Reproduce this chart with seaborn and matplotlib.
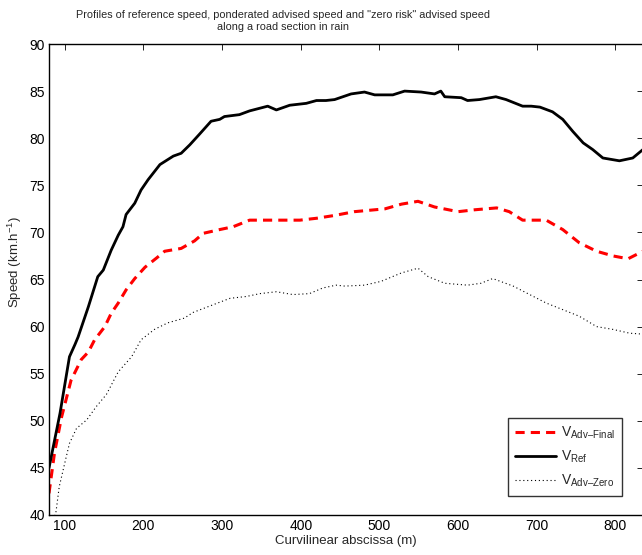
import matplotlib
matplotlib.use('Agg')
import matplotlib.pyplot as plt
import seaborn as sns
import pandas as pd

# Reference speed (black solid)
ref_x = [80, 94, 106, 113, 117, 130, 142, 149, 159, 168, 174, 178, 189, 197, 206, 221, 238, 248,
         259, 271, 286, 297, 303, 322, 335, 358, 369, 386, 407, 420, 432, 443, 464, 481, 494, 517,
         532, 553, 570, 578, 583, 604, 612, 627, 648, 661, 682, 693, 704, 720, 733, 746, 759, 771,
         784, 805, 822, 835]
ref_y = [45.0, 50.8, 56.8, 58.1, 58.9, 62.1, 65.3, 66.0, 68.1, 69.7, 70.6, 71.9, 73.1, 74.5, 75.6,
         77.2, 78.1, 78.4, 79.3, 80.4, 81.8, 82.0, 82.3, 82.5, 82.9, 83.4, 83.0, 83.5, 83.7, 84.0,
         84.0, 84.1, 84.7, 84.9, 84.6, 84.6, 85.0, 84.9, 84.7, 85.0, 84.4, 84.3, 84.0, 84.1, 84.4,
         84.1, 83.4, 83.4, 83.3, 82.8, 82.0, 80.7, 79.5, 78.8, 77.9, 77.6, 77.9, 78.8]

# Ponderated advised speed (red dashed)
fin_x = [80, 87, 96, 108, 121, 130, 138, 151, 159, 168, 178, 189, 202, 217, 227, 248, 265, 276,
         297, 314, 335, 369, 399, 420, 443, 468, 507, 528, 549, 570, 600, 621, 649, 665, 682, 712,
         733, 754, 776, 797, 816, 835]
fin_y = [42.3, 46.6, 50.4, 54.3, 56.5, 57.3, 58.6, 60.0, 61.4, 62.5, 63.9, 65.1, 66.3, 67.3, 68.0,
         68.3, 69.1, 69.9, 70.3, 70.6, 71.3, 71.3, 71.3, 71.5, 71.8, 72.2, 72.5, 73.0, 73.3, 72.7,
         72.2, 72.4, 72.6, 72.2, 71.3, 71.3, 70.3, 68.9, 68.0, 67.5, 67.2, 68.0]

# "Zero risk" advised speed (black dotted)
zero_x = [80, 89, 93, 100, 106, 115, 128, 140, 153, 168, 185, 197, 214, 231, 252, 263, 288, 310,
          331, 348, 369, 390, 411, 428, 445, 456, 481, 502, 528, 549, 562, 583, 612, 629, 644, 670,
          691, 712, 733, 754, 776, 797, 818, 835]
zero_y = [37.5, 40.4, 43.0, 45.5, 47.6, 49.2, 50.1, 51.5, 52.8, 55.2, 56.8, 58.6, 59.7, 60.4, 60.9,
          61.5, 62.3, 63.0, 63.2, 63.5, 63.7, 63.4, 63.5, 64.1, 64.4, 64.3, 64.4, 64.8, 65.7, 66.2,
          65.3, 64.6, 64.4, 64.6, 65.1, 64.3, 63.4, 62.5, 61.8, 61.1, 60.0, 59.7, 59.3, 59.2]

labels = ['V$_{\\mathrm{Adv\u2013Final}}$', 'V$_{\\mathrm{Ref}}$', 'V$_{\\mathrm{Adv\u2013Zero}}$']
xticks = [100, 200, 300, 400, 500, 600, 700, 800]
yticks = [40, 45, 50, 55, 60, 65, 70, 75, 80, 85, 90]

sns.set_style('white')
plt.rcParams['font.family'] = ['Liberation Sans', 'DejaVu Sans']
plt.rcParams['mathtext.fontset'] = 'custom'
plt.rcParams['mathtext.rm'] = 'Liberation Sans'
plt.rcParams['font.size'] = 9

fig = plt.figure(figsize=(6.42, 5.55), dpi=100)
ax = fig.add_axes([49 / 642, 40 / 555, 594 / 642, 471 / 555])

df_fin = pd.DataFrame({'x': fin_x, 'y': fin_y})
df_ref = pd.DataFrame({'x': ref_x, 'y': ref_y})
df_zero = pd.DataFrame({'x': zero_x, 'y': zero_y})

sns.lineplot(data=df_fin, x='x', y='y', ax=ax, color='red', lw=2.2,
             linestyle=(0, (3, 2)), label=labels[0], sort=False)
sns.lineplot(data=df_ref, x='x', y='y', ax=ax, color='black', lw=2.0,
             label=labels[1], sort=False)
sns.lineplot(data=df_zero, x='x', y='y', ax=ax, color='black', lw=0.8,
             linestyle=(0, (1, 2.5)), label=labels[2], sort=False)

ax.set_xlim(80, 835)
ax.set_ylim(40, 90)
ax.set_xticks(xticks)
ax.set_yticks(yticks)
ax.tick_params(direction='in', length=4, width=0.6, top=True, right=True,
               labelsize=10, colors='black', pad=3)
for s in ax.spines.values():
    s.set_linewidth(1.0)
    s.set_color('black')

ax.set_xlabel('Curvilinear abscissa (m)', fontsize=9.5, labelpad=1)
ax.set_ylabel(r'Speed (km.h$^{-1}$)', fontsize=9.5)
ax.yaxis.set_label_coords(-0.042, 0.537)

fig.text(283 / 642, 1 - 21 / 555,
         'Profiles of reference speed, ponderated advised speed and "zero risk" advised speed\n'
         'along a road section in rain', ha='center', va='center', fontsize=7.8, linespacing=1.25)

leg = ax.legend(loc='lower right', bbox_to_anchor=(0.9646, 0.040), borderaxespad=0,
                frameon=True, fancybox=False, edgecolor='black', fontsize=10,
                handlelength=2.9, borderpad=0.5, labelspacing=0.55, handletextpad=0.4)
leg.get_frame().set_linewidth(1.0)

plt.savefig('out.png', dpi=100)
